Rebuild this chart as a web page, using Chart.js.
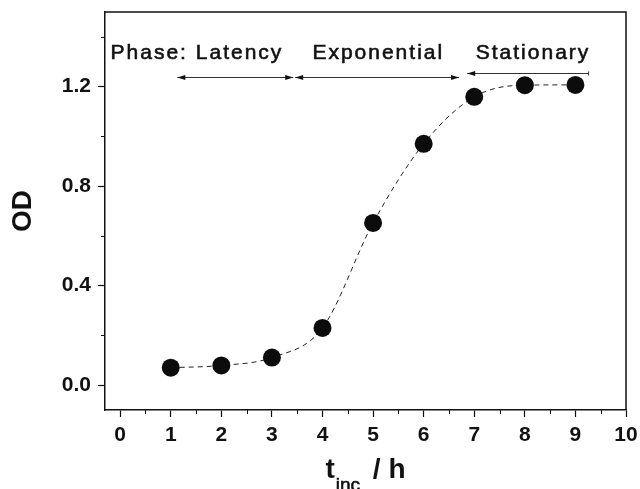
<!DOCTYPE html>
<html>
<head>
<meta charset="utf-8">
<script src="https://cdn.jsdelivr.net/npm/chart.js@4.4.1/dist/chart.umd.min.js"></script>
<style>
  html, body { margin: 0; padding: 0; background: #fff; }
</style>
</head>
<body>
<canvas id="growthChart" width="640" height="489"></canvas>
<script>
const hours = [1, 2, 3, 4, 5, 6, 7, 8, 9];
const od = [0.07, 0.079, 0.111, 0.23, 0.652, 0.97, 1.159, 1.206, 1.207];

const xTicks = [0, 1, 2, 3, 4, 5, 6, 7, 8, 9, 10];
const xMinorTicks = [0.5, 1.5, 2.5, 3.5, 4.5, 5.5, 6.5, 7.5, 8.5, 9.5];
const yTicks = [0, 0.4, 0.8, 1.2];
const yMinorTicks = [0.2, 0.6, 1.0, 1.4];

// growth phases, spans in hours
const phaseNames = ["Phase: Latency", "Exponential", "Stationary"];
const phaseStart = [1.13, 3.46, 6.86];
const phaseEnd = [3.42, 6.7, 9.26];

const FONT = '"Liberation Sans", Arial, Helvetica, sans-serif';

// plot frame, minor ticks, phase arrows and the x title (needs a subscript)
const decorations = {
  id: "decorations",
  afterDraw(chart, args, opts) {
    const { ctx, chartArea: a, scales: { x, y } } = chart;
    ctx.save();

    ctx.strokeStyle = "#111";
    ctx.lineWidth = 1.5;
    ctx.beginPath();
    ctx.moveTo(a.left, a.top);
    ctx.lineTo(a.right, a.top);
    ctx.lineTo(a.right, a.bottom);
    ctx.stroke();

    ctx.lineWidth = 1;
    ctx.beginPath();
    xMinorTicks.forEach(v => {
      const px = Math.round(x.getPixelForValue(v)) + 0.5;
      ctx.moveTo(px, a.bottom);
      ctx.lineTo(px, a.bottom + 4);
    });
    yMinorTicks.forEach(v => {
      const py = Math.round(y.getPixelForValue(v)) + 0.5;
      ctx.moveTo(a.left, py);
      ctx.lineTo(a.left - 4, py);
    });
    ctx.stroke();

    // arrows
    const head = (px, py, dir) => {
      ctx.beginPath();
      ctx.moveTo(px, py);
      ctx.lineTo(px - dir * 8, py - 2.5);
      ctx.lineTo(px - dir * 8, py + 2.5);
      ctx.closePath();
      ctx.fill();
    };
    ctx.strokeStyle = "#333";
    ctx.fillStyle = "#111";
    phaseNames.forEach((name, i) => {
      const x0 = x.getPixelForValue(phaseStart[i]);
      const x1 = x.getPixelForValue(phaseEnd[i]);
      const py = Math.round(y.getPixelForValue(opts.arrowLevel[i])) + 0.5;
      ctx.beginPath();
      ctx.moveTo(x0, py);
      ctx.lineTo(x1, py);
      ctx.stroke();
      const [left, right] = opts.heads[i];
      if (left) head(x0, py, -1);
      if (right) head(x1, py, 1);
      if (!right) {
        ctx.beginPath();
        ctx.moveTo(x1, py - 2);
        ctx.lineTo(x1, py + 2);
        ctx.stroke();
      }
    });

    // phase labels
    ctx.fillStyle = "#111";
    ctx.strokeStyle = "#111";
    ctx.lineWidth = 0.6;
    ctx.font = "21px " + FONT;
    ctx.textBaseline = "alphabetic";
    ctx.textAlign = "left";
    if ("letterSpacing" in ctx) ctx.letterSpacing = "2px";
    phaseNames.forEach((name, i) => {
      const lx = x.getPixelForValue(opts.labelAt[i]);
      const ly = y.getPixelForValue(opts.labelLevel);
      ctx.fillText(name, lx, ly);
      ctx.strokeText(name, lx, ly);
    });
    if ("letterSpacing" in ctx) ctx.letterSpacing = "0px";

    // x axis title: t_inc / h
    const big = "bold 28px " + FONT;
    const small = "19px " + FONT;
    const gap = 5;
    ctx.font = big;
    const wT = ctx.measureText("t").width;
    const wRest = ctx.measureText(" / h").width;
    ctx.font = small;
    const wSub = ctx.measureText("inc").width;
    const total = wT + 1 + wSub + gap + wRest;
    let tx = (a.left + a.right) / 2 - total / 2;
    const base = 478;
    ctx.font = big;
    ctx.fillText("t", tx, base);
    tx += wT + 1;
    ctx.font = small;
    ctx.fillText("inc", tx, base + 13);
    ctx.strokeText("inc", tx, base + 13);
    tx += wSub + gap;
    ctx.font = big;
    ctx.fillText(" / h", tx, base);

    ctx.restore();
  }
};

new Chart(document.getElementById("growthChart"), {
  type: "line",
  data: {
    labels: hours,
    datasets: [{
      data: hours.map((h, i) => ({ x: h, y: od[i] })),
      borderColor: "#222",
      borderWidth: 1,
      borderDash: [5, 4],
      cubicInterpolationMode: "monotone",
      pointRadius: 9,
      pointHoverRadius: 9,
      pointBackgroundColor: "#0c0c0c",
      pointBorderColor: "#0c0c0c",
      pointBorderWidth: 0,
      fill: false
    }]
  },
  options: {
    responsive: false,
    animation: false,
    layout: { padding: { top: 12, right: 14, left: 0, bottom: 0 } },
    plugins: {
      legend: { display: false },
      tooltip: { enabled: false },
      decorations: {
        arrowLevel: [1.24, 1.24, 1.255],
        heads: [[true, true], [true, true], [true, false]],
        labelAt: [-0.19, 3.8, 7.03],
        labelLevel: 1.31
      }
    },
    scales: {
      x: {
        type: "linear",
        min: -0.3,
        max: 10,
        afterBuildTicks: s => { s.ticks = xTicks.map(v => ({ value: v })); },
        afterFit: s => { s.height = 79; s.paddingLeft = 0; s.paddingRight = 0; },
        grid: { drawOnChartArea: false, tickLength: 7, tickColor: "#111", tickWidth: 1.2 },
        border: { color: "#111", width: 1.5 },
        ticks: {
          color: "#111",
          padding: 6,
          maxRotation: 0,
          font: { family: FONT, size: 21, weight: "bold" }
        }
      },
      y: {
        min: -0.1,
        max: 1.5,
        afterBuildTicks: s => { s.ticks = yTicks.map(v => ({ value: v })); },
        afterFit: s => { s.width = 105; s.paddingTop = 0; s.paddingBottom = 0; },
        grid: { drawOnChartArea: false, tickLength: 7, tickColor: "#111", tickWidth: 1.2 },
        border: { color: "#111", width: 1.5 },
        ticks: {
          color: "#111",
          padding: 7,
          callback: v => v.toFixed(1),
          font: { family: FONT, size: 21, weight: "bold" }
        },
        title: {
          display: true,
          text: "OD",
          color: "#111",
          padding: { top: 6, bottom: 0 },
          font: { family: FONT, size: 28, weight: "bold" }
        }
      }
    }
  },
  plugins: [decorations]
});
</script>
</body>
</html>
